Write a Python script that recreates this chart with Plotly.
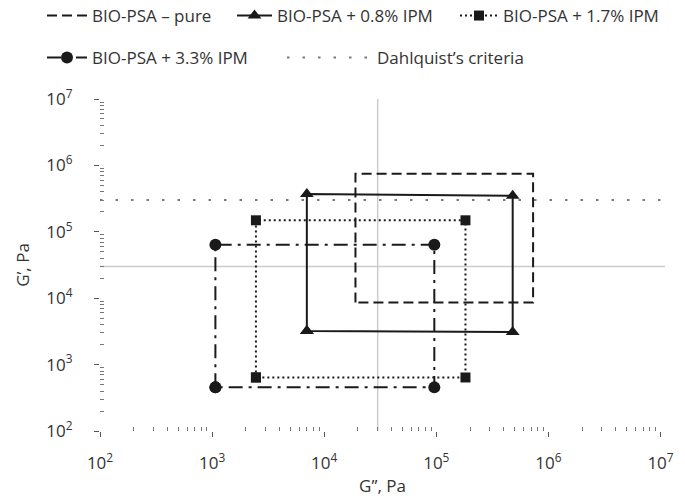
import plotly.graph_objects as go

# ---- data ----
series_names = ["BIO-PSA – pure", "BIO-PSA + 0.8% IPM", "BIO-PSA + 1.7% IPM", "BIO-PSA + 3.3% IPM"]

# corners of each viscoelastic window: G'' (x) and G' (y), closed path
pure_x = [1.9e4, 1.9e4, 7.3e5, 7.3e5, 1.9e4]
pure_y = [8.6e3, 7.5e5, 7.5e5, 8.6e3, 8.6e3]

ipm08_x = [7.0e3, 7.0e3, 4.8e5, 4.8e5, 7.0e3]
ipm08_y = [3.2e3, 3.7e5, 3.5e5, 3.1e3, 3.2e3]

ipm17_x = [2.46e3, 2.46e3, 1.82e5, 1.82e5, 2.46e3]
ipm17_y = [640, 1.49e5, 1.49e5, 640, 640]

ipm33_x = [1.07e3, 1.07e3, 9.6e4, 9.6e4, 1.07e3]
ipm33_y = [454, 6.4e4, 6.4e4, 454, 454]

dahlquist_name = "Dahlquist’s criteria"
dahlquist_g = 3.0e5          # G' criterion, Pa
quadrant_g = 3.0e4           # grey quadrant lines (G' and G'')

x_range_exp = [2, 7.04]
y_range_exp = [2, 7]
tick_exps = [2, 3, 4, 5, 6, 7]
tick_vals = [10 ** e for e in tick_exps]
tick_text = ["10<sup>%d</sup>" % e for e in tick_exps]
minor_vals = [m * 10 ** e for e in range(2, 7) for m in range(2, 10)]

INK = "#1a1a1a"
TEXT = "#333333"
FONT = "Open Sans"
W, H = 685, 502

fig = go.Figure()

fig.add_trace(go.Scatter(
    x=pure_x, y=pure_y, name=series_names[0], mode="lines",
    line=dict(color=INK, width=2, dash="10px,5px"), legend="legend"))
fig.add_trace(go.Scatter(
    x=ipm08_x, y=ipm08_y, name=series_names[1], mode="lines+markers",
    line=dict(color=INK, width=2),
    marker=dict(symbol="triangle-up", size=12, color=INK), legend="legend2"))
fig.add_trace(go.Scatter(
    x=ipm17_x, y=ipm17_y, name=series_names[2], mode="lines+markers",
    line=dict(color=INK, width=2, dash="2px,3px"),
    marker=dict(symbol="square", size=10, color=INK), legend="legend3"))
fig.add_trace(go.Scatter(
    x=ipm33_x, y=ipm33_y, name=series_names[3], mode="lines+markers",
    line=dict(color=INK, width=2, dash="14px,6px,3px,6px"),
    marker=dict(symbol="circle", size=12, color=INK), legend="legend4"))
fig.add_trace(go.Scatter(
    x=[10 ** x_range_exp[0], 10 ** x_range_exp[1]], y=[dahlquist_g, dahlquist_g],
    name=dahlquist_name, mode="lines",
    line=dict(color="#7a7a7a", width=2, dash="2.5px,13px"), legend="legend5"))

# grey reference lines
fig.add_shape(type="line", xref="x", yref="paper", x0=quadrant_g, x1=quadrant_g, y0=0, y1=1,
              line=dict(color="#cccccc", width=1.5), layer="below")
fig.add_shape(type="line", xref="paper", yref="y", x0=0, x1=1, y0=quadrant_g, y1=quadrant_g,
              line=dict(color="#cccccc", width=1.5), layer="below")

axis_common = dict(
    type="log", tickvals=tick_vals, ticktext=tick_text,
    showgrid=False, zeroline=False, showline=False, automargin=False,
    ticks="outside", ticklen=5, tickwidth=1, tickcolor="#555",
    tickfont=dict(family=FONT, size=17, color=TEXT),
    minor=dict(tickvals=minor_vals, ticks="inside", ticklen=4, tickwidth=1,
               tickcolor="#777", showgrid=False),
)

fig.update_xaxes(range=x_range_exp, ticklabelstandoff=12,
                 title=dict(text="G”, Pa", font=dict(family=FONT, size=17, color=TEXT), standoff=6),
                 **axis_common)
fig.update_yaxes(range=y_range_exp, ticklabelstandoff=18,
                 title=dict(text="G’, Pa", font=dict(family=FONT, size=17, color=TEXT), standoff=12),
                 **axis_common)


def legend_at(x_px, y_px, itemwidth):
    return dict(
        orientation="h", xref="container", yref="container",
        x=x_px / W, y=1 - y_px / H, xanchor="left", yanchor="middle",
        font=dict(family=FONT, size=17, color=TEXT),
        itemwidth=itemwidth, bgcolor="rgba(0,0,0,0)",
    )


fig.update_layout(
    width=W, height=H,
    margin=dict(l=100, r=20, t=99, b=71),
    paper_bgcolor="white", plot_bgcolor="white",
    showlegend=True,
    legend=legend_at(42, 16, 40),
    legend2=legend_at(232, 16, 35),
    legend3=legend_at(455, 16, 38),
    legend4=legend_at(42, 58, 40),
    legend5=legend_at(282, 58, 85),
    font=dict(family=FONT, color=TEXT),
)

fig.write_html("out.html")
